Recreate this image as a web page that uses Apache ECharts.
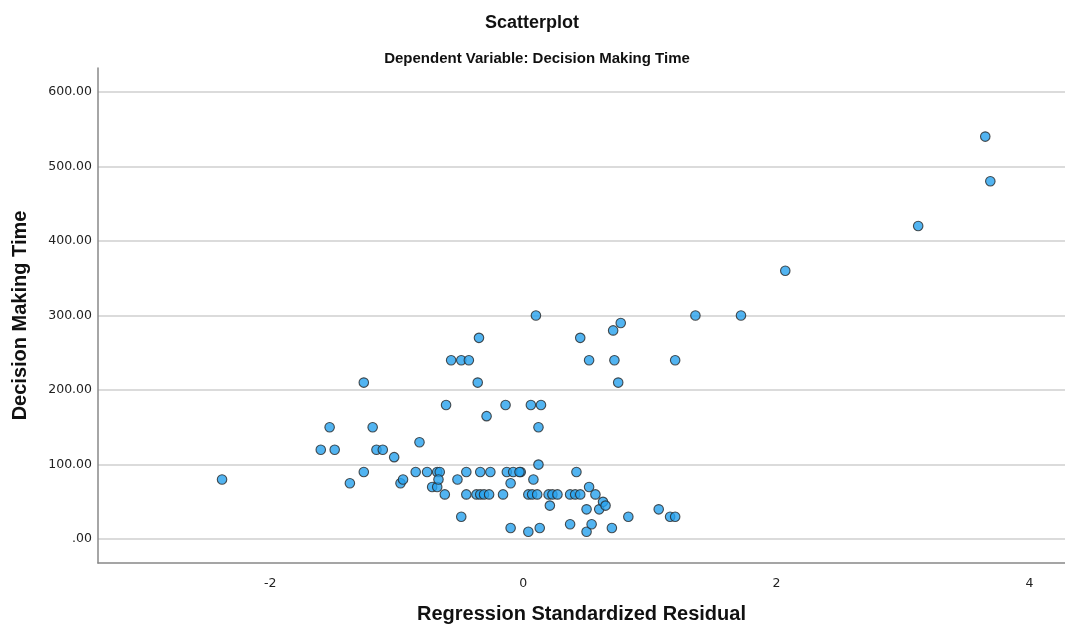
<!DOCTYPE html>
<html>
<head>
<meta charset="utf-8">
<script src="https://cdn.jsdelivr.net/npm/echarts@6/dist/echarts.min.js"></script>
<style>
html,body{margin:0;padding:0;background:#fff;}
#chart{width:1065px;height:628px;}
</style>
</head>
<body>
<div id="chart"></div>
<script>
const titleText = "Scatterplot";
const subtitleText = "Dependent Variable: Decision Making Time";
const xAxisName = "Regression Standardized Residual";
const yAxisName = "Decision Making Time";
const xTicks = [-2, 0, 2, 4];
const yTicks = [0, 100, 200, 300, 400, 500, 600];

const residuals = [
  -2.38, -1.60, -1.53, -1.49, -1.37, -1.26, -1.26, -1.19, -1.16, -1.11,
  -1.02, -0.97, -0.95, -0.85, -0.82, -0.76, -0.72, -0.68, -0.68, -0.66,
  -0.67, -0.62, -0.61, -0.57, -0.52, -0.49, -0.49, -0.45, -0.45, -0.43,
  -0.37, -0.36, -0.35, -0.34, -0.34, -0.31, -0.29, -0.27, -0.26, -0.16,
  -0.14, -0.13, -0.10, -0.10, -0.08, -0.02, -0.03, 0.04, 0.04, 0.06,
  0.07, 0.08, 0.10, 0.11, 0.12, 0.12, 0.13, 0.14, 0.20, 0.21,
  0.23, 0.27, 0.37, 0.37, 0.41, 0.42, 0.45, 0.45, 0.50, 0.50,
  0.52, 0.52, 0.54, 0.57, 0.60, 0.63, 0.65, 0.70, 0.71, 0.72,
  0.75, 0.77, 0.83, 1.07, 1.16, 1.20, 1.20, 1.36, 1.72, 2.07,
  3.12, 3.65, 3.69
];
const decisionTime = [
  80, 120, 150, 120, 75, 90, 210, 150, 120, 120,
  110, 75, 80, 90, 130, 90, 70, 70, 90, 90,
  80, 60, 180, 240, 80, 240, 30, 90, 60, 240,
  60, 210, 270, 60, 90, 60, 165, 60, 90, 60,
  180, 90, 75, 15, 90, 90, 90, 10, 60, 180,
  60, 80, 300, 60, 100, 150, 15, 180, 60, 45,
  60, 60, 60, 20, 60, 90, 270, 60, 40, 10,
  70, 240, 20, 60, 40, 50, 45, 15, 280, 240,
  210, 290, 30, 40, 30, 30, 240, 300, 300, 360,
  420, 540, 480
];

const points = residuals.map((r, i) => [r, decisionTime[i]]);

const chart = echarts.init(document.getElementById('chart'), null, {renderer: 'canvas'});
const font = 'Arial, "Liberation Sans", sans-serif';
const tickFont = '"DejaVu Sans", sans-serif';
chart.setOption({
  animation: false,
  backgroundColor: '#ffffff',
  title: [{
    text: titleText,
    left: 527, top: 9, textAlign: 'center',
    textStyle: {fontFamily: font, fontSize: 18, fontWeight: 'bold', color: '#111'}
  }, {
    text: subtitleText,
    left: 532, top: 46, textAlign: 'center',
    textStyle: {fontFamily: font, fontSize: 15, fontWeight: 'bold', color: '#111'}
  }],
  grid: {left: 98, right: 0, top: 68, bottom: 65, containLabel: false, outerBoundsMode: 'none'},
  xAxis: {
    type: 'value',
    min: -3.36, max: 4.28,
    name: xAxisName,
    nameLocation: 'middle',
    nameGap: 41,
    nameTextStyle: {fontFamily: font, fontSize: 20, fontWeight: 'bold', color: '#111'},
    axisLine: {show: true, onZero: false, lineStyle: {color: '#888', width: 1.5}},
    axisTick: {show: false, customValues: xTicks},
    axisLabel: {customValues: xTicks, margin: 14, fontFamily: tickFont, fontSize: 12.5, color: '#222'},
    splitLine: {show: false}
  },
  yAxis: {
    type: 'value',
    min: -32, max: 632,
    name: yAxisName,
    nameLocation: 'middle',
    nameGap: 68,
    nameRotate: 90,
    nameTextStyle: {fontFamily: font, fontSize: 20, fontWeight: 'bold', color: '#111'},
    axisLine: {show: true, onZero: false, lineStyle: {color: '#888', width: 1.5}},
    axisTick: {show: false, customValues: yTicks},
    axisLabel: {
      customValues: yTicks, margin: 6, fontFamily: tickFont, fontSize: 12.5, color: '#222',
      formatter: v => v === 0 ? '.00' : v.toFixed(2)
    },
    splitLine: {show: true, lineStyle: {color: '#cfcfcf', width: 1.5}}
  },
  series: [{
    type: 'scatter',
    data: points,
    symbol: 'circle',
    symbolSize: 9.5,
    itemStyle: {color: '#27a1ee', borderColor: '#262626', borderWidth: 1.1}
  }]
});
</script>
</body>
</html>
